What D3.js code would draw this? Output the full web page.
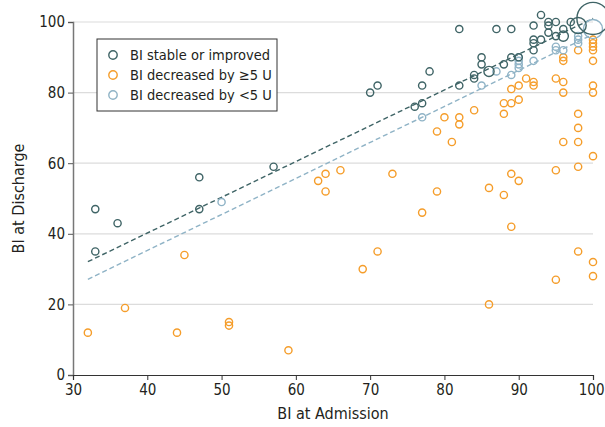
<!DOCTYPE html>
<html>
<head>
<meta charset="utf-8">
<script src="https://cdn.jsdelivr.net/npm/d3@7"></script>
<style>
	body { margin: 0; background: #fff; }
	svg text { font-family: "DejaVu Sans Condensed", "DejaVu Sans", sans-serif; font-stretch: condensed; fill: #231f20; }
</style>
</head>
<body>
<svg id="chart" width="605" height="427"></svg>
<script>
// [BI at admission, BI at discharge, number of patients]
var stable = [
	[33, 47, 1], [33, 35, 1], [36, 43, 1], [47, 56, 1], [47, 47, 1], [57, 59, 1],
	[70, 80, 1], [71, 82, 1], [76, 76, 1], [77, 77, 1], [77, 82, 1], [78, 86, 1],
	[82, 82, 1], [82, 98, 1], [84, 85, 1], [84, 84, 1], [85, 90, 1], [85, 88, 1],
	[86, 86, 2], [87, 98, 1], [88, 88, 1], [89, 98, 1], [89, 90, 1], [90, 90, 1],
	[92, 99, 1], [92, 95, 1], [92, 94, 1], [92, 92, 1], [93, 102, 1], [93, 95, 1],
	[94, 100, 1], [94, 99, 1], [94, 97, 1], [95, 100, 1], [95, 96, 1], [96, 98, 1],
	[96, 96, 2], [97, 100, 1], [98, 99, 5], [100, 101, 20]
];
var decreasedBig = [
	[32, 12, 1], [37, 19, 1], [44, 12, 1], [45, 34, 1], [51, 15, 1], [51, 14, 1],
	[59, 7, 1], [63, 55, 1], [64, 57, 1], [64, 52, 1], [66, 58, 1], [69, 30, 1],
	[71, 35, 1], [73, 57, 1], [77, 46, 1], [79, 52, 1], [79, 69, 1], [80, 73, 1],
	[81, 66, 1], [82, 73, 1], [82, 71, 1], [84, 75, 1], [86, 53, 1], [86, 20, 1],
	[88, 51, 1], [88, 77, 1], [89, 77, 1], [90, 78, 1], [88, 74, 1], [89, 57, 1],
	[90, 55, 1], [89, 42, 1], [89, 81, 1], [90, 82, 1], [91, 84, 1], [92, 83, 1],
	[92, 82, 1], [95, 84, 1], [96, 83, 1], [96, 80, 1], [95, 58, 1], [95, 27, 1],
	[96, 66, 1], [98, 66, 1], [98, 70, 1], [98, 74, 1], [98, 59, 1], [98, 35, 1],
	[100, 62, 1], [100, 32, 1], [100, 28, 1], [100, 82, 1], [100, 80, 1], [100, 89, 1],
	[100, 95, 1], [100, 94, 1], [100, 93, 1], [100, 92, 1], [98, 92, 1], [96, 90, 1],
	[96, 89, 1]
];
var decreasedSmall = [
	[50, 49, 1], [77, 73, 1], [85, 82, 1], [87, 86, 1], [89, 85, 1], [90, 90, 1],
	[90, 89, 1], [90, 88, 1], [90, 87, 1], [92, 89, 1], [95, 93, 1], [95, 92, 1],
	[96, 92, 1], [98, 96, 1], [98, 95, 1], [98, 94, 1], [100, 98, 7]
];

// fitted lines, [x, y] at both ends
var stableFit = [[32, 32.1], [100, 101]];
var smallFit = [[32, 27.1], [100, 96.5]];

var xTicks = [30, 40, 50, 60, 70, 80, 90, 100];
var yTicks = [0, 20, 40, 60, 80, 100];
var legendLabels = ['BI stable or improved', 'BI decreased by \u22655 U', 'BI decreased by <5 U'];
var colors = ['#3f6466', '#f59d2a', '#8fb3c6'];

var svg = d3.select('#chart');

var x = d3.scaleLinear().domain([30, 100]).range([73, 593]);
var y = d3.scaleLinear().domain([0, 100]).range([375, 22]);
var r = d3.scaleSqrt().domain([0, 1]).range([0, 3.6]);

// gridlines
svg.append('g').selectAll('line').data(yTicks.filter((d) => d > 0)).enter().append('line')
	.attr('x1', x(30)).attr('x2', x(100))
	.attr('y1', (d) => y(d)).attr('y2', (d) => y(d))
	.attr('stroke', '#dcdcdc').attr('stroke-width', 1.2);

// y axis
var yAxis = svg.append('g').attr('transform', `translate(${x(30)},0)`)
	.call(d3.axisLeft(y).tickValues(yTicks).tickSize(5).tickPadding(3));
yAxis.select('.domain').attr('stroke', '#777').attr('stroke-width', 1.5);
yAxis.selectAll('.tick line').attr('stroke', '#555');
yAxis.selectAll('text').style('font-size', '15px');

// x axis
var xAxis = svg.append('g').attr('transform', `translate(0,${y(0)})`)
	.call(d3.axisBottom(x).tickValues(xTicks).tickSize(5).tickPadding(4));
xAxis.select('.domain').attr('stroke', '#333').attr('stroke-width', 1.2);
xAxis.selectAll('.tick line').attr('stroke', '#333');
xAxis.selectAll('text').style('font-size', '15px');
// last label sits against the right edge
xAxis.selectAll('.tick text').filter((d) => d === 100).attr('text-anchor', 'end').attr('dx', '11');

svg.append('text').attr('x', (x(30) + x(100)) / 2).attr('y', 419)
	.attr('text-anchor', 'middle').style('font-size', '16px').text('BI at Admission');
svg.append('text').attr('transform', `translate(24,${(y(0) + y(100)) / 2}) rotate(-90)`)
	.attr('text-anchor', 'middle').style('font-size', '16px').text('BI at Discharge');

// dashed fits
var line = d3.line().x((d) => x(d[0])).y((d) => y(d[1]));
[[stableFit, colors[0]], [smallFit, colors[2]]].forEach((f) => {
	svg.append('path').datum(f[0]).attr('d', line)
		.attr('fill', 'none').attr('stroke', f[1])
		.attr('stroke-width', 1.4).attr('stroke-dasharray', '5,3');
});

// points
var drawSeries = (data, color) => {
	svg.append('g').selectAll('circle').data(data).enter().append('circle')
		.attr('cx', (d) => x(d[0])).attr('cy', (d) => y(d[1]))
		.attr('r', (d) => r(d[2]))
		.attr('fill', 'none').attr('stroke', color).attr('stroke-width', 1.4);
};
drawSeries(decreasedBig, colors[1]);
drawSeries(decreasedSmall, colors[2]);
drawSeries(stable, colors[0]);

// legend
var legend = svg.append('g').attr('transform', 'translate(97,39)');
legend.append('rect').attr('width', 180).attr('height', 72)
	.attr('fill', '#fff').attr('stroke', '#333').attr('stroke-width', 1);
var items = legend.selectAll('g').data(legendLabels).enter().append('g')
	.attr('transform', (d, i) => `translate(0,${16 + i * 20})`);
items.append('circle').attr('cx', 16).attr('r', 4.2)
	.attr('fill', 'none').attr('stroke', (d, i) => colors[i]).attr('stroke-width', 1.4);
items.append('text').attr('x', 33).attr('dy', '0.35em')
	.style('font-size', '14.5px').text((d) => d);
</script>
</body>
</html>
